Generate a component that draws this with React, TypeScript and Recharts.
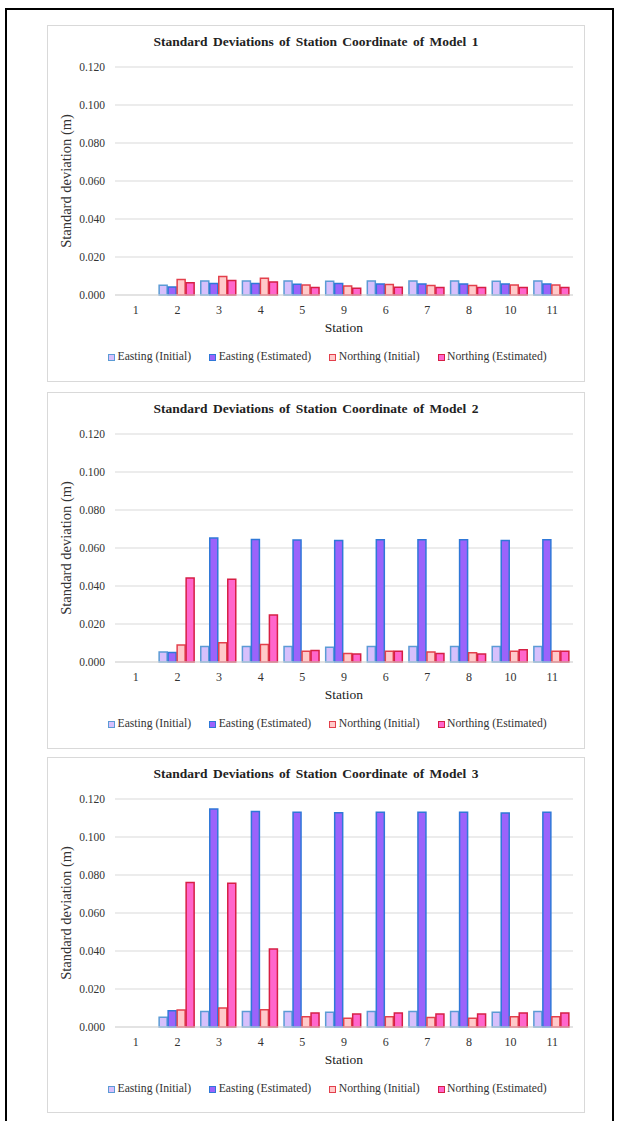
import { Bar, BarChart, CartesianGrid, XAxis, YAxis } from "recharts";

const STATIONS = ["1", "2", "3", "4", "5", "9", "6", "7", "8", "10", "11"];
const Y_TICKS = [0, 0.02, 0.04, 0.06, 0.08, 0.1, 0.12];

// model 1
const M1_EAST_INIT = [0, 0.0051, 0.0074, 0.0074, 0.0074, 0.0073, 0.0074, 0.0074, 0.0074, 0.0073, 0.0074];
const M1_EAST_EST = [0, 0.0042, 0.006, 0.006, 0.0057, 0.006, 0.0058, 0.0058, 0.0058, 0.0058, 0.0058];
const M1_NORTH_INIT = [0, 0.0081, 0.0097, 0.0088, 0.0053, 0.0048, 0.0055, 0.005, 0.005, 0.0053, 0.0053];
const M1_NORTH_EST = [0, 0.0064, 0.0076, 0.0069, 0.0039, 0.0035, 0.0041, 0.0039, 0.0039, 0.0039, 0.0039];

// model 2
const M2_EAST_INIT = [0, 0.0053, 0.0082, 0.0082, 0.0082, 0.0078, 0.0082, 0.0082, 0.0082, 0.0082, 0.0082];
const M2_EAST_EST = [0, 0.005, 0.0652, 0.0645, 0.0642, 0.064, 0.0643, 0.0643, 0.0643, 0.064, 0.0643];
const M2_NORTH_INIT = [0, 0.0089, 0.0101, 0.0092, 0.0056, 0.0045, 0.0056, 0.0052, 0.0049, 0.0056, 0.0056];
const M2_NORTH_EST = [0, 0.0442, 0.0435, 0.0247, 0.0061, 0.0042, 0.0057, 0.0045, 0.0042, 0.0064, 0.0057];

// model 3
const M3_EAST_INIT = [0, 0.0051, 0.0081, 0.0081, 0.0081, 0.0077, 0.0081, 0.0081, 0.0081, 0.0077, 0.0081];
const M3_EAST_EST = [0, 0.0086, 0.1147, 0.1134, 0.113, 0.1128, 0.113, 0.113, 0.113, 0.1126, 0.113];
const M3_NORTH_INIT = [0, 0.0089, 0.01, 0.0091, 0.0054, 0.0046, 0.0054, 0.005, 0.0046, 0.0054, 0.0054];
const M3_NORTH_EST = [0, 0.0761, 0.0756, 0.041, 0.0074, 0.0068, 0.0074, 0.0068, 0.0068, 0.0074, 0.0074];

const SERIES = [
  { key: "eastInit", name: "Easting (Initial)", fill: "#d7c0fc", stroke: "#5b9bd5" },
  { key: "eastEst", name: "Easting (Estimated)", fill: "#9b63fb", stroke: "#2f78d8" },
  { key: "northInit", name: "Northing (Initial)", fill: "#ffcaca", stroke: "#e3404c" },
  { key: "northEst", name: "Northing (Estimated)", fill: "#ff66cc", stroke: "#d61f45" },
];

const FONT = "'Liberation Serif', 'Times New Roman', serif";

function buildRows(ei: number[], ee: number[], ni: number[], ne: number[]) {
  return STATIONS.map((s, i) => ({
    station: s,
    eastInit: ei[i],
    eastEst: ee[i],
    northInit: ni[i],
    northEst: ne[i],
  }));
}

const MODELS = [
  { title: "Standard Deviations of Station Coordinate of Model 1", top: 25, height: 357, rows: buildRows(M1_EAST_INIT, M1_EAST_EST, M1_NORTH_INIT, M1_NORTH_EST) },
  { title: "Standard Deviations of Station Coordinate of Model 2", top: 392, height: 357, rows: buildRows(M2_EAST_INIT, M2_EAST_EST, M2_NORTH_INIT, M2_NORTH_EST) },
  { title: "Standard Deviations of Station Coordinate of Model 3", top: 757, height: 356, rows: buildRows(M3_EAST_INIT, M3_EAST_EST, M3_NORTH_INIT, M3_NORTH_EST) },
];

function Panel({ title, top, height, rows }: { title: string; top: number; height: number; rows: any[] }) {
  return (
    <div
      style={{
        position: "absolute",
        left: 47,
        top,
        width: 538,
        height,
        boxSizing: "border-box",
        border: "1px solid #d9d9d9",
        background: "#fff",
        fontFamily: FONT,
        color: "#222",
      }}
    >
      <div
        style={{
          position: "absolute",
          top: 7,
          left: 0,
          width: 536,
          textAlign: "center",
          fontWeight: "bold",
          fontSize: 13.5,
          wordSpacing: 2,
          lineHeight: "18px",
        }}
      >
        {title}
      </div>
      <div
        style={{
          position: "absolute",
          left: 18,
          top: 155,
          transform: "translate(-50%, -50%) rotate(-90deg)",
          whiteSpace: "nowrap",
          fontSize: 14.5,
          color: "#333",
        }}
      >
        Standard deviation (m)
      </div>
      <BarChart
        width={536}
        height={300}
        data={rows}
        margin={{ top: 41, right: 11, left: 0, bottom: 0 }}
        barCategoryGap="6%"
        barGap={1}
        style={{ position: "absolute", left: 0, top: 0 }}
      >
        <CartesianGrid vertical={false} stroke="#d9d9d9" strokeWidth={1.2} />
        <XAxis
          dataKey="station"
          height={31}
          tickLine={false}
          axisLine={{ stroke: "#d9d9d9", strokeWidth: 1.2 }}
          tickMargin={4}
          tick={{ fontSize: 12, fill: "#333", fontFamily: FONT }}
          interval={0}
        />
        <YAxis
          width={67}
          domain={[0, 0.12]}
          ticks={Y_TICKS}
          tickFormatter={(v: number) => v.toFixed(3)}
          tickLine={false}
          axisLine={false}
          tickMargin={4}
          tick={{ fontSize: 11.5, fill: "#333", fontFamily: FONT }}
        />
        {SERIES.map((s) => (
          <Bar
            key={s.key}
            dataKey={s.key}
            name={s.name}
            fill={s.fill}
            stroke={s.stroke}
            strokeWidth={1.5}
            isAnimationActive={false}
          />
        ))}
      </BarChart>
      <div
        style={{
          position: "absolute",
          left: 0,
          top: 294,
          width: 592,
          textAlign: "center",
          fontSize: 13.5,
          lineHeight: "16px",
          color: "#222",
        }}
      >
        Station
      </div>
      <div
        style={{
          position: "absolute",
          left: 60,
          top: 323,
          display: "flex",
          alignItems: "center",
          fontSize: 11.7,
          lineHeight: "16px",
          color: "#333",
          whiteSpace: "nowrap",
        }}
      >
        {SERIES.map((s) => (
          <div key={s.key} style={{ display: "flex", alignItems: "center", marginRight: 18 }}>
            <span
              style={{
                display: "inline-block",
                width: 5,
                height: 5,
                background: s.fill,
                border: `1.5px solid ${s.stroke}`,
                marginRight: 2.5,
              }}
            />
            {s.name}
          </div>
        ))}
      </div>
    </div>
  );
}

export default function App() {
  return (
    <div style={{ position: "absolute", left: 0, top: 0, width: 619, height: 1121, background: "#fff", overflow: "hidden" }}>
      <div
        style={{
          position: "absolute",
          left: 5,
          top: 8,
          width: 609,
          height: 1113,
          boxSizing: "border-box",
          borderTop: "2px solid #000",
          borderLeft: "2px solid #000",
          borderRight: "2px solid #000",
        }}
      />
      {MODELS.map((m) => (
        <Panel key={m.title} title={m.title} top={m.top} height={m.height} rows={m.rows} />
      ))}
    </div>
  );
}
